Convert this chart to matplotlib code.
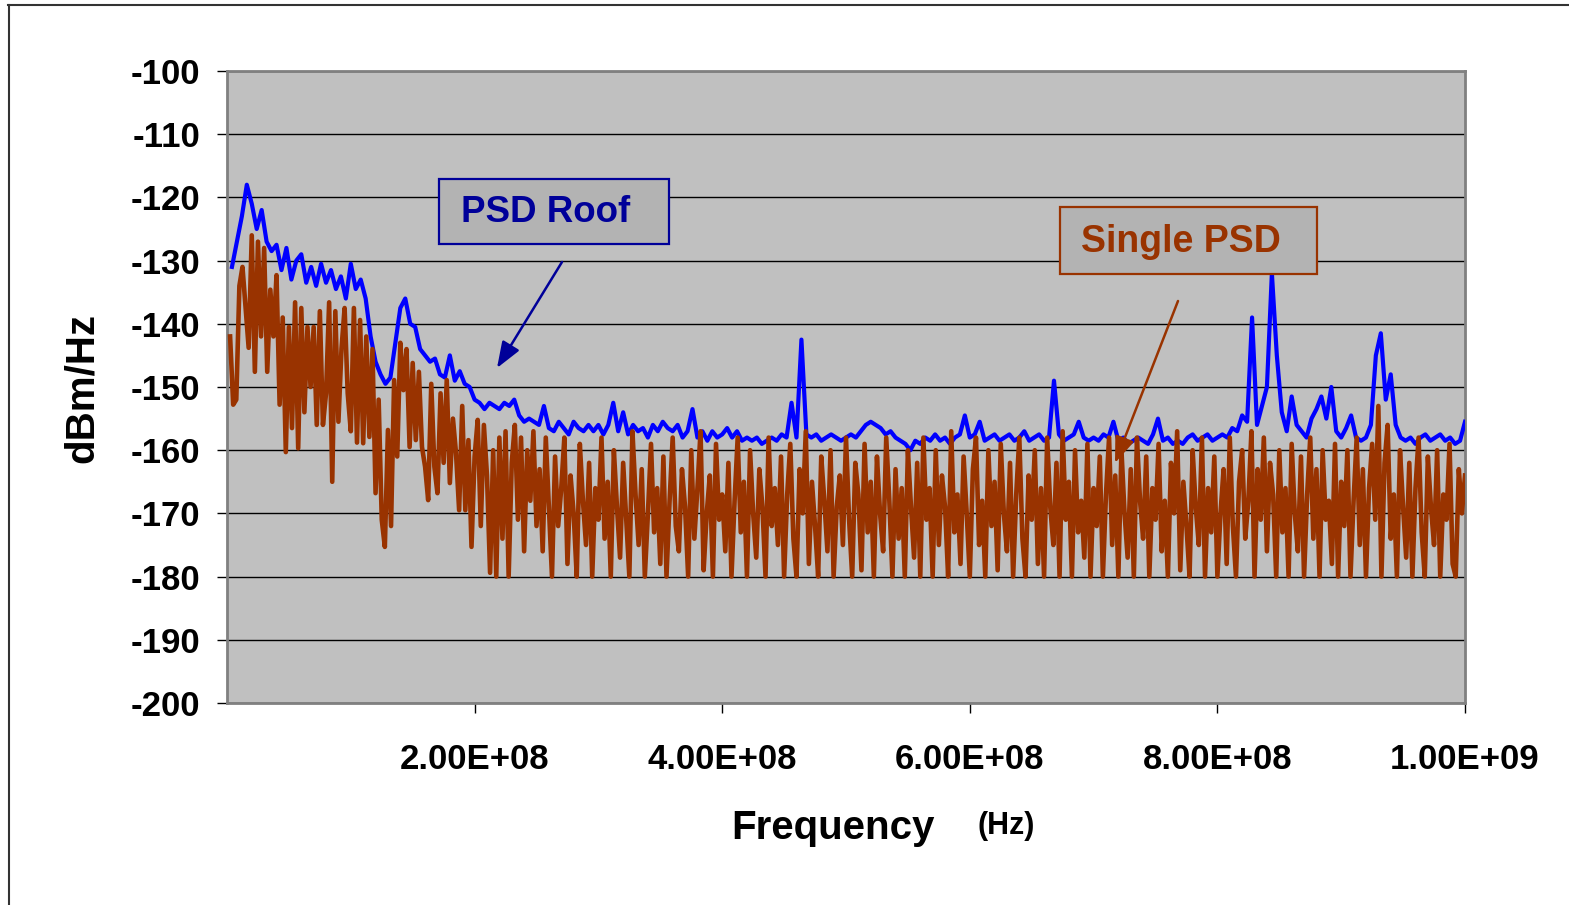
import numpy as np
import matplotlib
matplotlib.use("Agg")
import matplotlib.pyplot as plt
from matplotlib.patches import Rectangle
from matplotlib.lines import Line2D

plt.rcParams['font.family'] = ['Liberation Sans', 'DejaVu Sans']

# PSD Roof (blue), sampled every 4 MHz from 4 MHz to 1 GHz
roof_start_mhz = 4
roof_step_mhz = 4
psd_roof = [
    -131, -127, -123, -118, -121, -125, -122, -127, -128.5, -127.5,
    -131.5, -128, -133, -130, -129, -133.5, -131, -134, -130.5, -133.5,
    -131.5, -134.5, -132.5, -136, -130.5, -134.5, -133, -136, -142, -146,
    -148, -149.5, -148.5, -143, -137.5, -136, -140, -140.5, -144, -145,
    -146, -145.5, -148, -148.5, -145, -149, -147.5, -149.5, -150, -152,
    -152.5, -153.5, -152.5, -153, -153.5, -152.5, -153, -152, -154.5, -155.5,
    -155, -155.5, -156, -153, -156.5, -157, -155.5, -156.5, -157.5, -155.5,
    -156.5, -157, -156, -157, -156, -157.5, -156, -152.5, -157, -154,
    -157.5, -156, -157, -156.5, -158, -156, -157, -155.5, -156.5, -157,
    -156, -158, -157, -153.5, -158, -157, -158.5, -157, -158, -157.5,
    -156.5, -158, -157, -158.5, -158, -158.5, -158, -159, -158.5, -158,
    -158.5, -157.5, -158, -152.5, -158, -142.5, -157.5, -158, -157.5, -158.5,
    -158, -157.5, -158, -158.5, -158, -157.5, -158, -157, -156, -155.5,
    -156, -156.5, -157.5, -157, -158, -158.5, -159, -160, -158.5, -159,
    -158, -158.5, -157.5, -158.5, -158, -159, -158, -157.5, -154.5, -158,
    -157.5, -155.5, -158.5, -158, -157.5, -158.5, -158, -157.5, -158.5, -158,
    -157, -158.5, -158, -157.5, -158.5, -158, -149, -157.5, -158.5, -158,
    -157.5, -155.5, -158, -158.5, -158, -158.5, -157.5, -158, -155.5, -158.5,
    -158, -159, -158.5, -158, -158.5, -159, -157.5, -155, -158.5, -158,
    -159, -158.5, -159, -158, -157.5, -158.5, -158, -157.5, -158.5, -158,
    -157.5, -158, -156.5, -157, -154.5, -155.5, -139, -156, -153, -150,
    -132, -145, -154, -157, -151.5, -156, -157, -158, -155, -153.5,
    -151.5, -155, -150, -157, -158, -156.5, -154.5, -158, -158.5, -158,
    -156, -145, -141.5, -152, -148, -156, -158, -158.5, -158, -159,
    -158, -157.5, -158.5, -158, -157.5, -158.5, -158, -159, -158.5, -155.5,
]

# Single PSD (brown), sampled every 2.5 MHz from 2.5 MHz to 1 GHz
single_start_mhz = 2.5
single_step_mhz = 2.5
single_psd = [
    -142, -152.8, -152, -134, -131, -137.5, -143.8, -126, -147.6, -127,
    -142, -128, -147.6, -134.6, -142, -132.3, -152.8, -139, -160.3, -140.5,
    -156.5, -136.6, -159.7, -137.5, -154, -140.5, -150, -140.5, -156, -138,
    -156, -151, -136.6, -165, -138, -155.5, -143.9, -137.5, -151, -157,
    -137.5, -158.8, -139.4, -158.9, -142, -157.9, -144, -166.8, -152, -171,
    -175.3, -156.8, -172, -148.9, -161, -143, -150.5, -144, -159.5, -146.2,
    -158.4, -147.6, -159.5, -162.6, -167.9, -149.5, -162.6, -166.8, -151, -162,
    -148.9, -165.2, -155, -160.5, -169.5, -153, -169.5, -158.4, -175.3, -161,
    -155.2, -172, -156, -164, -179.4, -160, -180, -158, -174, -157,
    -180, -162, -156, -171, -158, -176, -160, -168, -157, -172,
    -163, -176, -158, -169, -180, -161, -172, -166, -158, -178, -164, -170, -180, -159, -168, -175, -162, -180, -166, -171,
    -158, -174, -165, -180, -160, -169, -177, -162, -171, -180, -157, -167, -175, -163, -180, -170, -159, -173, -166, -178,
    -161, -180, -168, -158, -172, -176, -163, -169, -180, -160, -174, -166, -157, -179, -170, -164, -180, -159, -171, -167,
    -176, -162, -180, -168, -158, -173, -165, -180, -160, -170, -177, -163, -169, -180, -158, -172, -166, -175, -161, -180,
    -167, -159, -174, -180, -163, -170, -157, -178, -165, -172, -180, -161, -168, -176, -160, -180, -169, -164, -175, -158,
    -171, -180, -162, -167, -179, -159, -173, -165, -180, -161, -170, -176, -158, -168, -180, -163, -174, -166, -180, -160,
    -169, -177, -162, -180, -158, -171, -166, -180, -160, -175, -164, -169, -180, -157, -173, -167, -178, -161, -170, -180,
    -163, -158, -175, -168, -180, -160, -172, -165, -179, -159, -170, -176, -162, -180, -167, -158, -174, -180, -164, -171,
    -160, -178, -166, -180, -158, -169, -175, -162, -180, -157, -171, -165, -180, -160, -173, -168, -177, -159, -180, -166,
    -172, -161, -180, -167, -158, -175, -164, -180, -160, -170, -177, -163, -180, -158, -168, -174, -161, -180, -166, -171,
    -159, -176, -168, -180, -162, -170, -157, -179, -165, -172, -180, -160, -169, -175, -158, -180, -166, -173, -161, -180,
    -170, -163, -178, -158, -172, -180, -165, -160, -174, -168, -157, -180, -163, -171, -158, -176, -162, -167, -180, -160,
    -173, -166, -180, -159, -170, -176, -161, -180, -167, -158, -174, -163, -180, -160, -171, -168, -178, -159, -180, -165,
    -172, -160, -180, -168, -158, -175, -163, -180, -166, -159, -171, -153, -180, -162, -156, -174, -167, -180, -160, -169,
    -177, -162, -180, -166, -158, -173, -180, -161, -169, -175, -160, -180, -167, -171, -159, -178, -180, -163, -170, -164,
]

x_ticks = [2e8, 4e8, 6e8, 8e8, 1e9]
x_tick_labels = ['2.00E+08', '4.00E+08', '6.00E+08', '8.00E+08', '1.00E+09']
y_ticks = list(range(-200, -99, 10))

f_roof = (roof_start_mhz + roof_step_mhz * np.arange(len(psd_roof))) * 1e6
f_single = (single_start_mhz + single_step_mhz * np.arange(len(single_psd))) * 1e6

W, H = 1569, 905
fig = plt.figure(figsize=(W / 100, H / 100), dpi=100)
ax = fig.add_axes([227 / W, 1 - 703 / H, (1465 - 227) / W, (703 - 71) / H])
ax.set_facecolor('#C0C0C0')

ax.plot(f_roof, psd_roof, color='#0000FF', lw=3.0, zorder=3)
ax.plot(f_single, single_psd, color='#993300', lw=3.3, zorder=4)

ax.set_xlim(0, 1e9)
ax.set_ylim(-200, -100)
ax.set_yticks(y_ticks)
ax.set_yticklabels([str(v) for v in y_ticks])
ax.set_xticks(x_ticks)
ax.set_xticklabels(x_tick_labels)
ax.yaxis.grid(True, color='black', lw=1.0)
ax.set_axisbelow(True)
for s in ax.spines.values():
    s.set_color('#808080')
    s.set_linewidth(2)

ax.tick_params(axis='both', direction='out', length=7, width=1, color='black',
               labelsize=25)
ax.tick_params(axis='y', pad=12)
ax.tick_params(axis='x', pad=22)
for lab in ax.get_xticklabels() + ax.get_yticklabels():
    lab.set_fontweight('bold')

fig.text(82 / W, 1 - 388 / H, 'dBm/Hz', rotation=90, fontsize=29,
         fontweight='bold', ha='center', va='center')
fig.text(833 / W, 1 - 828 / H, 'Frequency', fontsize=29,
         fontweight='bold', ha='center', va='center')
fig.text(1006 / W, 1 - 826 / H, '(Hz)', fontsize=22,
         fontweight='bold', ha='center', va='center')

# callout boxes
def ax_xy(px, py):
    return (px - 227) / 1238, (703 - py) / 632

x0, y0 = ax_xy(439, 244)
ax.add_patch(Rectangle((x0, y0), 230 / 1238, 65 / 632, transform=ax.transAxes,
                       facecolor='#B3B3B3', edgecolor='#000099', lw=1.6, zorder=6))
tx, ty = ax_xy(546, 212)
ax.text(tx, ty, 'PSD Roof', transform=ax.transAxes, color='#000099', fontsize=26.5,
        fontweight='bold', ha='center', va='center', zorder=7)

x0, y0 = ax_xy(1060, 274)
ax.add_patch(Rectangle((x0, y0), 257 / 1238, 67 / 632, transform=ax.transAxes,
                       facecolor='#B3B3B3', edgecolor='#993300', lw=1.6, zorder=6))
tx, ty = ax_xy(1181, 242)
ax.text(tx, ty, 'Single PSD', transform=ax.transAxes, color='#993300', fontsize=27,
        fontweight='bold', ha='center', va='center', zorder=7)

arrow_style = '-|>,head_length=0.8,head_width=0.3'
ax.annotate('', xy=ax_xy(497, 368), xytext=ax_xy(562, 262),
            xycoords='axes fraction', textcoords='axes fraction',
            arrowprops=dict(arrowstyle=arrow_style, color='#000099', lw=1.8,
                            mutation_scale=20, shrinkA=0, shrinkB=0), zorder=8)
ax.annotate('', xy=ax_xy(1115, 463), xytext=ax_xy(1178, 301),
            xycoords='axes fraction', textcoords='axes fraction',
            arrowprops=dict(arrowstyle=arrow_style, color='#993300', lw=1.8,
                            mutation_scale=20, shrinkA=0, shrinkB=0), zorder=8)

# outer chart border (cut off at right and bottom)
fig.add_artist(Line2D([8.5 / W, 8.5 / W], [0, 1 - 5 / H], color='#333333', lw=1.5))
fig.add_artist(Line2D([8 / W, 1], [1 - 5.5 / H, 1 - 5.5 / H], color='#333333', lw=1.5))

fig.savefig('out.png', dpi=100, facecolor='white')
